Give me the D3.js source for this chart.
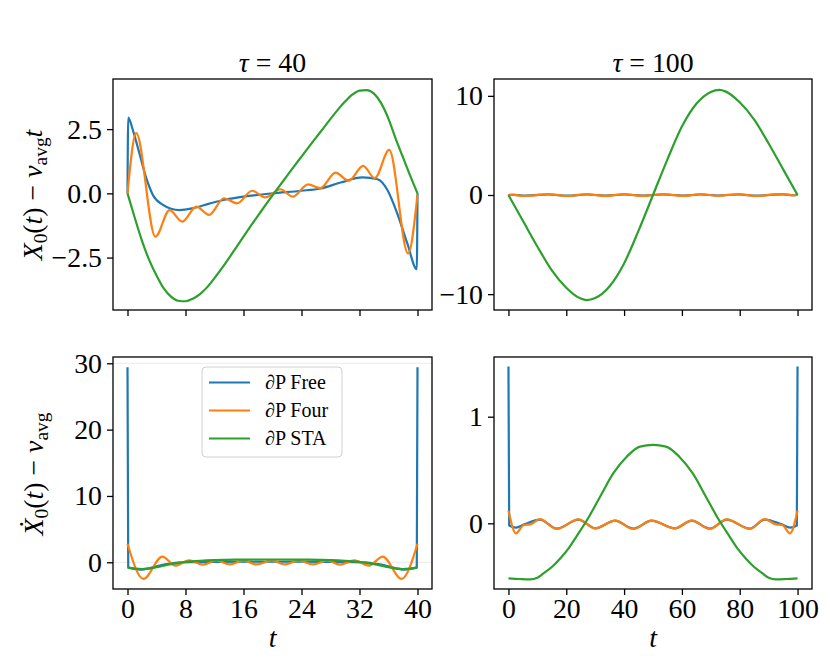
<!DOCTYPE html>
<html>
<head>
<meta charset="utf-8">
<script src="https://cdn.jsdelivr.net/npm/d3@7"></script>
<style>
  body { margin: 0; background: #fff; }
  svg text { font-family: "Liberation Serif", "DejaVu Serif", serif; fill: #000; }
</style>
</head>
<body>
<svg id="canvas" width="830" height="663"></svg>
<script>
// ---- tau = 40 : X0(t) - v_avg t ----
let tlFreeT = [0, 0.1, 0.75, 1.65, 2.6, 3.5, 4.9, 6, 7.2, 9, 11.3, 13.6, 16, 20, 24, 26.6, 29.4, 32.4, 34.5, 35.85, 37.2, 38.6, 39.9, 40]
let tlFreeV = [0, 2.95, 2.45, 1.55, 0.58, -0.06, -0.45, -0.6, -0.65, -0.58, -0.4, -0.24, -0.13, 0.0, 0.1, 0.19, 0.42, 0.62, 0.55, 0.13, -0.78, -1.95, -2.95, 0]
let tlFourT = [0, 1.2, 3.85, 5.8, 7.55, 9.5, 11.25, 13.3, 15.1, 17.2, 19.0, 21.1, 22.8, 24.9, 26.6, 28.7, 30.5, 32.5, 34.1, 36.1, 38.7, 40]
let tlFourV = [0, 2.34, -1.69, -0.65, -1.1, -0.52, -0.84, -0.19, -0.39, 0.1, -0.16, 0.16, -0.13, 0.35, 0.2, 0.81, 0.49, 1.07, 0.59, 1.69, -2.34, -0.05]
let tlStaT = [0, 1, 2, 3, 4, 5, 6, 7, 8, 9, 10, 11, 12, 13, 14, 15, 16, 17, 18, 19, 20,
              21, 22, 23, 24, 25, 26, 27, 28, 29, 30, 31, 32, 33, 34, 35, 36, 37, 38, 39, 40]
let tlStaV = [0, -0.95, -1.85, -2.6, -3.2, -3.7, -4.02, -4.18, -4.2, -4.1, -3.92, -3.65, -3.3, -2.92, -2.52, -2.1, -1.68, -1.27, -0.87, -0.47, -0.08,
              0.3, 0.68, 1.06, 1.43, 1.8, 2.17, 2.53, 2.9, 3.25, 3.57, 3.84, 4.0, 4.02, 3.88, 3.5, 2.9, 2.12, 1.4, 0.68, 0]

// ---- tau = 100 : X0(t) - v_avg t ----
let trWaveT = [0, 1.5, 5, 8, 13.8, 20.5, 27, 33.5, 40, 46.5, 53.5, 60.5, 66.5, 72.5, 79.5, 86, 92, 95, 98.5, 100]
let trFreeV = [0, 0.02, -0.06, -0.04, 0.05, -0.06, 0.05, -0.05, 0.05, -0.05, 0.05, -0.05, 0.05, -0.05, 0.05, -0.06, 0.04, 0.06, -0.02, 0]
let trFourV = [0, 0.03, -0.1, -0.07, 0.09, -0.1, 0.08, -0.09, 0.08, -0.09, 0.08, -0.09, 0.08, -0.08, 0.09, -0.1, 0.07, 0.1, -0.03, 0]
let trStaT = [0, 5, 10, 15, 20, 25, 27, 30, 35, 40, 45, 50, 55, 60, 65, 70, 73, 75, 80, 85, 90, 95, 100]
let trStaV = [0, -2.6, -5.2, -7.6, -9.35, -10.45, -10.6, -10.4, -9.2, -6.9, -3.6, 0, 3.6, 6.9, 9.2, 10.4, 10.6, 10.45, 9.35, 7.6, 5.2, 2.6, 0]

// ---- tau = 40 : dX0/dt - v_avg ----
let blFreeT = [0, 0.1, 1, 1.8, 3, 4, 5, 6, 7, 9, 12, 20, 28, 31, 33, 34, 35, 36, 37, 38.2, 39, 39.9, 40]
let blFreeV = [29.4, -0.75, -1.0, -1.1, -0.9, -0.6, -0.35, -0.18, -0.05, 0.03, 0.07, 0.08, 0.07, 0.03, -0.05, -0.18, -0.35, -0.6, -0.9, -1.1, -1.0, -0.75, 29.4]
let blFourT = [0, 2.2, 4.8, 6.6, 8.5, 10.4, 12.3, 14.1, 16.0, 17.8, 19.9, 21.7, 23.6, 25.6, 27.5, 29.3, 31.3, 33.3, 35.2, 37.8, 40]
let blFourV = [2.8, -2.5, 0.85, -0.5, 0.3, -0.35, 0.28, -0.32, 0.28, -0.33, 0.28, -0.33, 0.28, -0.32, 0.28, -0.35, 0.3, -0.5, 0.85, -2.5, 2.8]
let blStaT = [0, 1, 2, 3, 4, 5, 6, 7, 8, 10, 12, 15, 20, 25, 28, 30, 32, 33, 34, 35, 36, 37, 38, 39, 40]
let blStaV = [-0.8, -0.95, -1.02, -0.95, -0.75, -0.5, -0.28, -0.08, 0.05, 0.22, 0.33, 0.4, 0.42, 0.4, 0.33, 0.22, 0.05, -0.08, -0.28, -0.5, -0.75, -0.95, -1.02, -0.95, -0.8]

// ---- tau = 100 : dX0/dt - v_avg ----
let brFreeT = [0, 0.25, 2.6, 5.5, 10.9, 16.7, 24.2, 30, 36.9, 43.2, 49.5, 57.6, 63.4, 69.7, 75.5, 83.5, 88.7, 94.5, 97.4, 99.75, 100]
let brFreeV = [1.47, -0.02, -0.04, -0.01, 0.035, -0.05, 0.035, -0.047, 0.025, -0.05, 0.025, -0.047, 0.025, -0.05, 0.035, -0.05, 0.035, -0.01, -0.04, -0.02, 1.47]
let brFourT = [0, 2.6, 5.3, 7.5, 10.9, 16.7, 24.2, 30, 36.9, 43.2, 49.5, 57.6, 63.4, 69.7, 75.5, 83.5, 88.7, 92.5, 94.7, 97.4, 100]
let brFourV = [0.12, -0.094, -0.016, -0.01, 0.04, -0.053, 0.0375, -0.047, 0.025, -0.053, 0.025, -0.047, 0.025, -0.053, 0.0375, -0.053, 0.04, -0.01, -0.016, -0.094, 0.12]
let brStaT = [0, 4, 7.5, 10, 12.1, 15, 17.9, 20.8, 23.6, 27.6, 31.7, 36.3, 40.9, 45.5, 50, 54.5, 59.1, 63.7, 68.3, 72.4, 76.4, 79.2, 82.1, 85, 87.9, 90, 92.5, 96, 100]
let brStaV = [-0.516, -0.522, -0.525, -0.51, -0.47, -0.41, -0.33, -0.235, -0.12, 0.05, 0.25, 0.47, 0.625, 0.72, 0.735, 0.72, 0.625, 0.47, 0.25, 0.05, -0.12, -0.235, -0.33, -0.41, -0.47, -0.51, -0.525, -0.522, -0.516]

// ticks and labels
let ticksX40 = [0, 8, 16, 24, 32, 40]
let ticksX100 = [0, 20, 40, 60, 80, 100]
let ticksTL = [-2.5, 0, 2.5]
let ticksTR = [-10, 0, 10]
let ticksBL = [0, 10, 20, 30]
let ticksBR = [0, 1]
let seriesNames = ['∂P Free', '∂P Four', '∂P STA']
let colors = ['#1f77b4', '#ff7f0e', '#2ca02c']

let zip = (t, v) => t.map((d, i) => [d, v[i]])

let canvas = d3.select('#canvas')
let fs = 27.8

let panels = [
  { box: [113, 432, 79, 310], xDom: [-2, 42], yDom: [-4.54, 4.45], xTicks: ticksX40, yTicks: ticksTL, yFmt: d3.format('.1f'), xLab: false,
    lines: [zip(tlFreeT, tlFreeV), zip(tlFourT, tlFourV), zip(tlStaT, tlStaV)] },
  { box: [494, 812, 79, 310], xDom: [-5, 105], yDom: [-11.6, 11.7], xTicks: ticksX100, yTicks: ticksTR, yFmt: d3.format('d'), xLab: false,
    lines: [zip(trWaveT, trFreeV), zip(trWaveT, trFourV), zip(trStaT, trStaV)] },
  { box: [113, 432, 357, 589], xDom: [-2, 42], yDom: [-4.03, 30.95], xTicks: ticksX40, yTicks: ticksBL, yFmt: d3.format('d'), xLab: true, grid: [0, 30],
    lines: [zip(blFreeT, blFreeV), zip(blFourT, blFourV), zip(blStaT, blStaV)] },
  { box: [494, 812, 357, 589], xDom: [-5, 105], yDom: [-0.616, 1.56], xTicks: ticksX100, yTicks: ticksBR, yFmt: d3.format('d'), xLab: true,
    lines: [zip(brFreeT, brFreeV), zip(brFourT, brFourV), zip(brStaT, brStaV)] }
]

panels.forEach(p => {
  let [x0, x1, y0, y1] = p.box
  let x = d3.scaleLinear().domain(p.xDom).range([x0, x1])
  let y = d3.scaleLinear().domain(p.yDom).range([y1, y0])
  let g = canvas.append('g')

  if (p.grid) {
    g.selectAll('.grid').data(p.grid).enter().append('line')
      .attr('x1', x0).attr('x2', x1)
      .attr('y1', d => y(d)).attr('y2', d => y(d))
      .attr('stroke', '#ebebeb').attr('stroke-width', 1)
  }

  let line = d3.line().x(d => x(d[0])).y(d => y(d[1])).curve(d3.curveMonotoneX)
  p.lines.forEach((pts, i) => {
    g.append('path').attr('d', line(pts))
      .attr('fill', 'none').attr('stroke', colors[i])
      .attr('stroke-width', 2.2).attr('stroke-linejoin', 'round')
  })

  let xa = g.append('g').attr('transform', `translate(0,${y1})`)
    .call(d3.axisBottom(x).tickValues(p.xTicks).tickSize(6).tickPadding(3)
      .tickFormat(p.xLab ? d3.format('d') : ''))
  let ya = g.append('g').attr('transform', `translate(${x0},0)`)
    .call(d3.axisLeft(y).tickValues(p.yTicks).tickSize(6).tickPadding(5).tickFormat(p.yFmt))
  ;[xa, ya].forEach(a => {
    a.attr('font-size', fs).attr('font-family', null)
    a.select('.domain').remove()
    a.selectAll('line').attr('stroke', '#000').attr('stroke-width', 1.3)
  })

  g.append('rect').attr('x', x0).attr('y', y0).attr('width', x1 - x0).attr('height', y1 - y0)
    .attr('fill', 'none').attr('stroke', '#000').attr('stroke-width', 1.3)
})

// titles
;[[272.5, '40'], [653, '100']].forEach(([cx, v]) => {
  let t = canvas.append('text').attr('x', cx).attr('y', 72).attr('text-anchor', 'middle').attr('font-size', fs)
  t.append('tspan').attr('font-style', 'italic').text('τ')
  t.append('tspan').text(' = ' + v)
})

// x labels
;[272.5, 653].forEach(cx => {
  canvas.append('text').attr('x', cx).attr('y', 647).attr('text-anchor', 'middle')
    .attr('font-size', fs).attr('font-style', 'italic').text('t')
})

// y labels
let sub = fs * 0.7
let yl1 = canvas.append('text').attr('transform', 'translate(42,195) rotate(-90)')
  .attr('text-anchor', 'middle').attr('font-size', fs)
yl1.append('tspan').attr('font-style', 'italic').text('X')
yl1.append('tspan').attr('font-size', sub).attr('dy', 5).text('0')
yl1.append('tspan').attr('dy', -5).text('(')
yl1.append('tspan').attr('font-style', 'italic').text('t')
yl1.append('tspan').text(') − ')
yl1.append('tspan').attr('font-style', 'italic').text('v')
yl1.append('tspan').attr('font-size', sub).attr('dy', 5).text('avg')
yl1.append('tspan').attr('font-style', 'italic').attr('dy', -5).text('t')

let yl2 = canvas.append('text').attr('transform', 'translate(43,474) rotate(-90)')
  .attr('text-anchor', 'middle').attr('font-size', fs)
yl2.append('tspan').attr('font-style', 'italic').text('Ẋ')
yl2.append('tspan').attr('font-size', sub).attr('dy', 5).text('0')
yl2.append('tspan').attr('dy', -5).text('(')
yl2.append('tspan').attr('font-style', 'italic').text('t')
yl2.append('tspan').text(') − ')
yl2.append('tspan').attr('font-style', 'italic').text('v')
yl2.append('tspan').attr('font-size', sub).attr('dy', 5).text('avg')

// legend
let lg = canvas.append('g')
lg.append('rect').attr('x', 202).attr('y', 367).attr('width', 140).attr('height', 90).attr('rx', 4)
  .attr('fill', '#fff').attr('fill-opacity', 0.8).attr('stroke', '#d0d0d0').attr('stroke-width', 1)
seriesNames.forEach((name, i) => {
  let cy = 382.5 + i * 28
  lg.append('line').attr('x1', 209).attr('x2', 250).attr('y1', cy).attr('y2', cy)
    .attr('stroke', colors[i]).attr('stroke-width', 2.2)
  lg.append('text').attr('x', 265).attr('y', cy + 6.5).attr('font-size', 20).text(name)
})
</script>
</body>
</html>
